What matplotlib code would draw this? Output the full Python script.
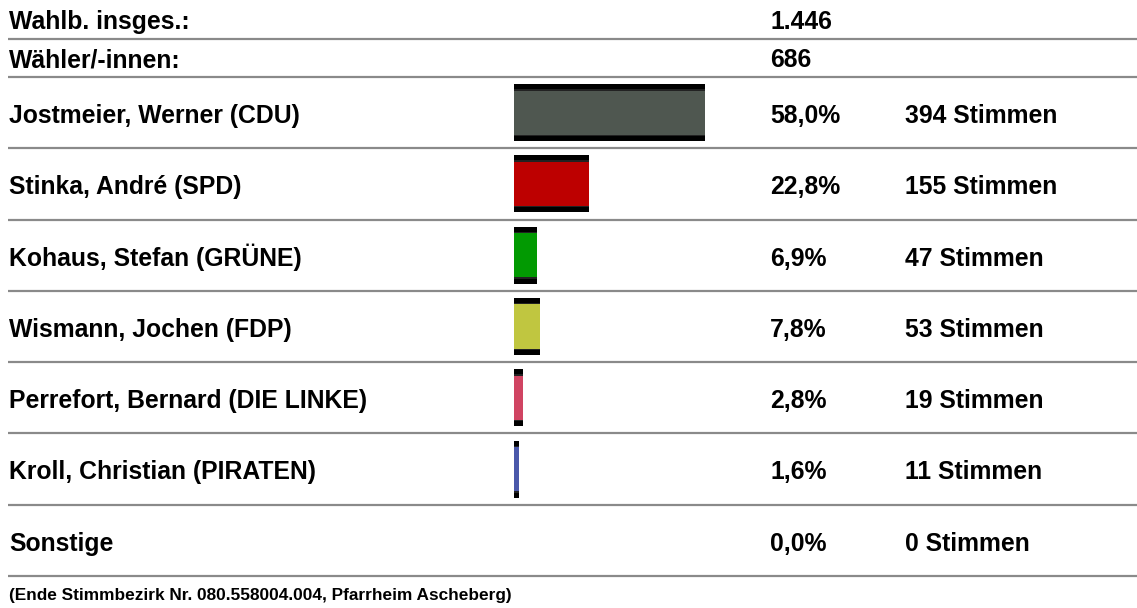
import matplotlib
matplotlib.use("Agg")
import matplotlib.pyplot as plt

# ---- data ----
header_labels = ["Wahlb. insges.:", "Wähler/-innen:"]
header_values = [1446, 686]
candidates = [
    "Jostmeier, Werner (CDU)",
    "Stinka, André (SPD)",
    "Kohaus, Stefan (GRÜNE)",
    "Wismann, Jochen (FDP)",
    "Perrefort, Bernard (DIE LINKE)",
    "Kroll, Christian (PIRATEN)",
    "Sonstige",
]
percents = [58.0, 22.8, 6.9, 7.8, 2.8, 1.6, 0.0]
votes = [394, 155, 47, 53, 19, 11, 0]
bar_colors = ["#4f5750", "#bd0000", "#029a02", "#c0c640", "#d04462", "#4a58aa", "#888888"]
footer = "(Ende Stimmbezirk Nr. 080.558004.004, Pfarrheim Ascheberg)"

# ---- layout (pixels) ----
W, H = 1137, 608
FONT = ["Liberation Sans", "DejaVu Sans"]
FS = 17.8
FS_FOOT = 12.4
LINE_COLOR = "#8a8a8a"
LINE_LW = 1.6
x_label, x_pct, x_votes = 9, 770, 905
header_lines = [39, 77]
row_top, row_bottom = 77, 576
n = len(candidates)
pitch = (row_bottom - row_top) / n
cap = 0.716 * FS * 100 / 72

fig = plt.figure(figsize=(W / 100, H / 100), dpi=100)
ax = fig.add_axes([0, 0, 1, 1])
ax.set_xlim(0, W)
ax.set_ylim(H, 0)
ax.axis("off")


def fmt_int(v):
    return f"{v:,}".replace(",", ".")


# header rows
for i, (lab, val) in enumerate(zip(header_labels, header_values)):
    center = header_lines[i] - 18.5
    base = center + cap / 2
    ax.text(x_label, base, lab, fontsize=FS, fontweight="bold", family=FONT, va="baseline", ha="left")
    ax.text(x_pct, base, fmt_int(val), fontsize=FS, fontweight="bold", family=FONT, va="baseline", ha="left")
    ax.plot([8, W], [header_lines[i]] * 2, color=LINE_COLOR, lw=LINE_LW, solid_capstyle="butt")

# candidate rows
for i, (name, p, v) in enumerate(zip(candidates, percents, votes)):
    center = row_top + pitch * (i + 0.5) + 1.5
    base = center + cap / 2
    ax.text(x_label, base, name, fontsize=FS, fontweight="bold", family=FONT, va="baseline", ha="left")
    ax.text(x_pct, base, f"{p:.1f}".replace(".", ",") + "%", fontsize=FS, fontweight="bold",
            family=FONT, va="baseline", ha="left")
    ax.text(x_votes, base, f"{v} Stimmen", fontsize=FS, fontweight="bold", family=FONT,
            va="baseline", ha="left")
    yl = row_top + pitch * (i + 1)
    ax.plot([8, W], [yl, yl], color=LINE_COLOR, lw=LINE_LW, solid_capstyle="butt")

# footer
ax.text(x_label, 594 + 0.716 * FS_FOOT * 100 / 72 / 2, footer, fontsize=FS_FOOT, fontweight="bold",
        family=FONT, va="baseline", ha="left")

# bars: axis in percent
bar_left = 514
px_per_pct = 191 / 58.0
bx = fig.add_axes([bar_left / W, (H - row_bottom) / H, 100 * px_per_pct / W, (row_bottom - row_top) / H])
bx.set_xlim(0, 100)
bx.set_ylim(n - 0.5, -0.5)
bx.axis("off")
ys = list(range(n))
bx.barh(ys, percents, height=0.80, color="black", linewidth=0)
bx.barh(ys, percents, height=0.66, color="#222222", linewidth=0)
bx.barh(ys, percents, height=0.62, color=bar_colors, linewidth=0)

fig.savefig("out.png", dpi=100)
